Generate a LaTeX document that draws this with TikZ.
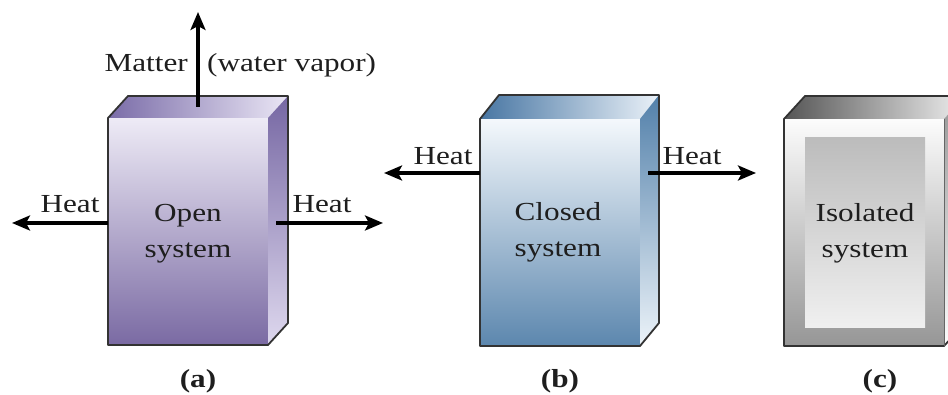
\documentclass[tikz,border=0pt]{standalone}
\usepackage{fontspec}
\setmainfont{Liberation Serif}[FakeStretch=1.2]
\usetikzlibrary{arrows.meta}
\definecolor{aFrontT}{RGB}{238,235,246}
\definecolor{aFrontB}{RGB}{122,106,163}
\definecolor{aTopL}{RGB}{122,108,168}
\definecolor{aTopR}{RGB}{234,230,245}
\definecolor{aSideT}{RGB}{118,103,163}
\definecolor{aSideB}{RGB}{222,216,238}
\definecolor{bFrontT}{RGB}{244,248,252}
\definecolor{bFrontB}{RGB}{92,135,174}
\definecolor{bTopL}{RGB}{72,118,163}
\definecolor{bTopR}{RGB}{234,241,248}
\definecolor{bSideT}{RGB}{82,128,170}
\definecolor{bSideB}{RGB}{236,243,249}
\definecolor{cFrameT}{RGB}{252,252,252}
\definecolor{cFrameB}{RGB}{150,150,150}
\definecolor{cInT}{RGB}{188,188,188}
\definecolor{cInB}{RGB}{240,240,240}
\definecolor{cTopL}{RGB}{85,85,85}
\definecolor{cTopR}{RGB}{238,238,238}
\definecolor{txt}{RGB}{30,30,30}
\begin{document}
\begin{tikzpicture}[x=1pt,y=-1pt,
  arr/.style={line width=3.2pt, draw=black, -{Stealth[length=18pt,width=15pt,inset=4pt]}},
  outline/.style={draw=black!80, line width=1.8pt, line join=round},
  lbl/.style={font=\fontsize{26}{36}\selectfont, text=txt, inner sep=0pt},
  capt/.style={font=\fontsize{26}{30}\selectfont\bfseries, text=txt, inner sep=0pt, anchor=base},
  body/.style={font=\fontsize{26}{36}\selectfont, text=txt, inner sep=0pt, align=center, anchor=base},
]
\useasboundingbox[fill=white] (0,0) rectangle (948,395);
\clip (0,0) rectangle (948,395);

% ---------- (a) open system ----------
\path[top color=aFrontT, bottom color=aFrontB] (108,118) rectangle (268,345);
\path[left color=aTopL, right color=aTopR] (108,118) -- (128,96) -- (288,96) -- (268,118) -- cycle;
\path[top color=aSideT, bottom color=aSideB] (268,118) -- (288,96) -- (288,323) -- (268,345) -- cycle;
\draw[outline] (108,118) -- (128,96) -- (288,96) -- (288,323) -- (268,345) -- (108,345) -- cycle;

\node[body] (aname) at (188,258) {Open\\system};
\node[capt] (acap) at (198,388) {(a)};

\coordinate (aTop) at (198,107);
\coordinate (aTopEnd) at (198,12);
\coordinate (aLeft) at (108,223);
\coordinate (aLeftEnd) at (12,223);
\coordinate (aRight) at (276,223);
\coordinate (aRightEnd) at (383,223);
\draw[arr] (aTop) -- (aTopEnd);
\draw[arr] (aLeft) -- (aLeftEnd);
\draw[arr] (aRight) -- (aRightEnd);
\node[lbl, anchor=base east] (matter) at (188,72) {Matter};
\node[lbl, anchor=base west] (vapor) at (207,72) {(water vapor)};
\node[lbl, anchor=base] (aheatL) at (70,213) {Heat};
\node[lbl, anchor=base] (aheatR) at (322,213) {Heat};

% ---------- (b) closed system ----------
\path[top color=bFrontT, bottom color=bFrontB] (480,119) rectangle (640,346);
\path[left color=bTopL, right color=bTopR] (480,119) -- (499,95) -- (659,95) -- (640,119) -- cycle;
\path[top color=bSideT, bottom color=bSideB] (640,119) -- (659,95) -- (659,323) -- (640,346) -- cycle;
\draw[outline] (480,119) -- (499,95) -- (659,95) -- (659,323) -- (640,346) -- (480,346) -- cycle;

\node[body] (bname) at (558,257) {Closed\\system};
\node[capt] (bcap) at (560,388) {(b)};

\coordinate (bLeft) at (480,173);
\coordinate (bLeftEnd) at (384,173);
\coordinate (bRight) at (648,173);
\coordinate (bRightEnd) at (756,173);
\draw[arr] (bLeft) -- (bLeftEnd);
\draw[arr] (bRight) -- (bRightEnd);
\node[lbl, anchor=base] (bheatL) at (443,165) {Heat};
\node[lbl, anchor=base] (bheatR) at (692,165) {Heat};

% ---------- (c) isolated system ----------
\path[top color=cFrameT, bottom color=cFrameB] (784,119) rectangle (944,346);
\path[left color=cTopL, right color=cTopR] (784,119) -- (805,96) -- (965,96) -- (944,119) -- cycle;
\path[top color=cFrameB, bottom color=cFrameT] (944,119) -- (965,96) -- (965,323) -- (944,346) -- cycle;
\path[top color=cInT, bottom color=cInB] (805,138) rectangle (925,328);
\draw[outline] (784,119) -- (805,96) -- (965,96) -- (965,323) -- (944,346) -- (784,346) -- cycle;
\draw[draw=black!60, line width=1pt] (944,119) -- (944,346);

\node[body] (cname) at (865,258) {Isolated\\system};
\node[capt] (ccap) at (880,388) {(c)};
\end{tikzpicture}
\end{document}
